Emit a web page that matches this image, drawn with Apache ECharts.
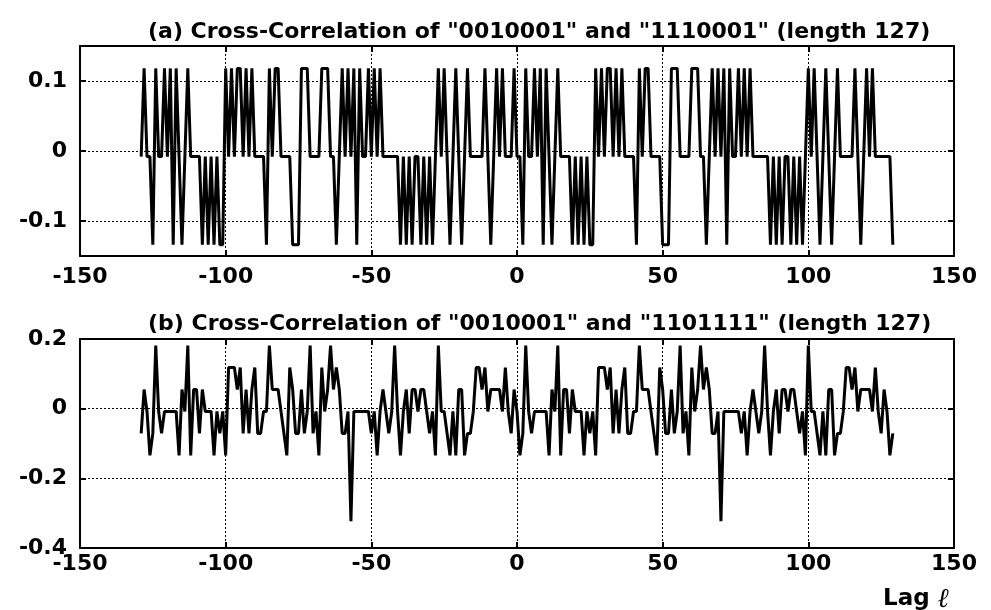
<!DOCTYPE html>
<html><head><meta charset="utf-8">
<script src="https://cdn.jsdelivr.net/npm/echarts@6/dist/echarts.min.js"></script>
<style>html,body{margin:0;padding:0;background:#fff}#c{width:991px;height:610px}</style>
</head><body><div id="c"></div>
<script>
const lagStart = -129, lagEnd = 129;
const titleA = '(a) Cross-Correlation of "0010001" and "1110001" (length 127)';
const titleB = '(b) Cross-Correlation of "0010001" and "1101111" (length 127)';
const xTicks = [-150,-100,-50,0,50,100,150];
const yTicksA = [-0.1,0,0.1];
const yTicksB = [-0.4,-0.2,0,0.2];
const corrA = [-.008,.118,
-.008,-.008,-.134,.118,-.008,-.008,.118,-.008,.118,-.134,
.118,-.008,-.134,-.008,.118,-.008,-.008,-.008,-.008,-.134,
-.008,-.134,-.008,-.134,-.008,-.134,-.134,.118,-.008,.118,
-.008,.118,.118,-.008,.118,-.008,.118,-.008,-.008,-.008,
-.008,-.134,.118,-.008,.118,.118,-.008,-.008,-.008,-.008,
-.134,-.134,-.134,.118,.118,.118,-.008,-.008,-.008,-.008,
.118,.118,.118,-.008,-.008,-.134,-.008,.118,-.008,.118,
-.008,.118,-.134,.118,-.008,-.008,.118,-.008,.118,-.008,
.118,-.008,-.008,-.008,-.008,-.008,-.008,-.134,-.008,-.134,
-.008,-.134,-.008,-.008,-.134,-.008,-.134,-.008,-.134,-.008,
.118,-.008,.118,-.008,-.134,-.008,.118,-.008,-.134,-.008,
.118,-.008,-.008,-.008,-.008,-.008,.118,-.008,-.134,-.008,
.118,-.008,.118,-.008,-.008,-.008,.118,
-.008,-.008,-.134,.118,-.008,-.008,.118,-.008,.118,-.134,
.118,-.008,-.134,-.008,.118,-.008,-.008,-.008,-.008,-.134,
-.008,-.134,-.008,-.134,-.008,-.134,-.134,.118,-.008,.118,
-.008,.118,.118,-.008,.118,-.008,.118,-.008,-.008,-.008,
-.008,-.134,.118,-.008,.118,.118,-.008,-.008,-.008,-.008,
-.134,-.134,-.134,.118,.118,.118,-.008,-.008,-.008,-.008,
.118,.118,.118,-.008,-.008,-.134,-.008,.118,-.008,.118,
-.008,.118,-.134,.118,-.008,-.008,.118,-.008,.118,-.008,
.118,-.008,-.008,-.008,-.008,-.008,-.008,-.134,-.008,-.134,
-.008,-.134,-.008,-.008,-.134,-.008,-.134,-.008,-.134,-.008,
.118,-.008,.118,-.008,-.134,-.008,.118,-.008,-.134,-.008,
.118,-.008,-.008,-.008,-.008,-.008,.118,-.008,-.134,-.008,
.118,-.008,.118,-.008,-.008,-.008,-.008,
-.008,-.008,-.134];
const corrB = [-.071,.055,
-.008,-.134,-.071,.181,-.008,-.071,-.008,-.008,-.008,-.008,
-.008,-.134,.055,-.008,.181,-.134,.055,.055,-.071,.055,
-.008,-.008,-.008,-.134,-.008,-.071,-.008,-.134,.118,.118,
.118,.055,.118,-.071,.055,-.071,.055,.118,-.071,-.071,
-.008,-.008,.181,.055,.055,.055,-.008,-.071,-.134,.118,
.055,-.071,-.071,.055,-.071,-.008,.181,-.071,-.008,-.134,
.118,-.008,.055,.181,.055,.118,.055,-.071,-.071,-.008,
-.323,-.008,-.008,-.008,-.008,-.008,-.008,-.071,-.008,-.134,
-.008,.055,-.008,-.071,-.008,.181,-.008,-.134,-.008,.055,
-.071,.055,.055,-.008,.055,.055,-.008,-.071,-.008,-.134,
.181,-.008,-.008,-.071,-.134,-.008,-.134,.055,.055,-.134,
-.071,-.071,-.008,.118,.118,.055,.118,-.008,.055,.055,
.055,.055,-.008,.118,-.008,-.071,.055,
-.008,-.134,-.071,.181,-.008,-.071,-.008,-.008,-.008,-.008,
-.008,-.134,.055,-.008,.181,-.134,.055,.055,-.071,.055,
-.008,-.008,-.008,-.134,-.008,-.071,-.008,-.134,.118,.118,
.118,.055,.118,-.071,.055,-.071,.055,.118,-.071,-.071,
-.008,-.008,.181,.055,.055,.055,-.008,-.071,-.134,.118,
.055,-.071,-.071,.055,-.071,-.008,.181,-.071,-.008,-.134,
.118,-.008,.055,.181,.055,.118,.055,-.071,-.071,-.008,
-.323,-.008,-.008,-.008,-.008,-.008,-.008,-.071,-.008,-.134,
-.008,.055,-.008,-.071,-.008,.181,-.008,-.134,-.008,.055,
-.071,.055,.055,-.008,.055,.055,-.008,-.071,-.008,-.134,
.181,-.008,-.008,-.071,-.134,-.008,-.134,.055,.055,-.134,
-.071,-.071,-.008,.118,.118,.055,.118,-.008,.055,.055,
.055,.055,-.008,.118,-.008,-.071,.055,
-.008,-.134,-.071];

const lags = [];
for (let l = lagStart; l <= lagEnd; l++) lags.push(l);
const FONT = "'DejaVu Sans', 'Liberation Sans', sans-serif";
const lab = {fontFamily: FONT, fontWeight: 'bold', fontSize: 22, color: '#000'};
const dot = {color: '#000', width: 1, type: [2, 2]};
const grids = [
  {left: 80, top: 46, width: 874, height: 210},
  {left: 80, top: 339, width: 874, height: 209}
];
function xAx(gi, pos, showLabel, margin) {
  return {type: 'value', gridIndex: gi, position: pos, min: -150, max: 150, interval: 50,
    axisLine: {show: true, onZero: false, lineStyle: {color: '#000', width: 2}},
    axisTick: {show: true, inside: true, length: 6, lineStyle: {color: '#000', width: 2}},
    axisLabel: Object.assign({show: showLabel, margin: margin, customValues: xTicks}, lab),
    splitLine: {show: pos === 'bottom', lineStyle: dot}};
}
function yAx(gi, pos, min, max, ticks, showLabel) {
  return {type: 'value', gridIndex: gi, position: pos, min: min, max: max,
    axisLine: {show: true, onZero: false, lineStyle: {color: '#000', width: 2}},
    axisTick: {show: true, inside: true, length: 6, customValues: ticks, lineStyle: {color: '#000', width: 2}},
    axisLabel: Object.assign({show: showLabel, margin: 13, customValues: ticks,
      formatter: v => (Math.abs(v) < 1e-9 ? '0' : String(+v.toFixed(2)))}, lab),
    splitLine: {show: false}};
}
const gridLinesA = yTicksA.map(v => ({yAxis: v}));
const gridLinesB = yTicksB.map(v => ({yAxis: v}));
const chart = echarts.init(document.getElementById('c'), null, {renderer: 'canvas'});
chart.setOption({
  animation: false,
  backgroundColor: '#fff',
  title: [
    {text: titleA, left: 143, top: 16, textStyle: {fontFamily: FONT, fontWeight: 'bold', fontSize: 22, color: '#000'}},
    {text: titleB, left: 143, top: 308, textStyle: {fontFamily: FONT, fontWeight: 'bold', fontSize: 22, color: '#000'}},
    {text: 'Lag {i|ℓ}', left: 878, top: 581, textStyle: {fontFamily: FONT, fontWeight: 'bold', fontSize: 23, color: '#000',
      rich: {i: {fontFamily: "'DejaVu Serif', serif", fontStyle: 'italic', fontSize: 27, color: '#000'}}}}
  ],
  grid: grids,
  xAxis: [xAx(0, 'bottom', true, 10), xAx(0, 'top', false, 8), xAx(1, 'bottom', true, 5), xAx(1, 'top', false, 8)],
  yAxis: [yAx(0, 'left', -0.15, 0.15, yTicksA, true), yAx(0, 'right', -0.15, 0.15, yTicksA, false),
          yAx(1, 'left', -0.4, 0.2, yTicksB, true), yAx(1, 'right', -0.4, 0.2, yTicksB, false)],
  series: [
    {type: 'line', xAxisIndex: 0, yAxisIndex: 0, showSymbol: false, symbol: 'none',
     lineStyle: {color: '#000', width: 3}, data: lags.map((l, i) => [l, corrA[i]]),
     markLine: {silent: true, symbol: 'none', label: {show: false}, lineStyle: dot, data: gridLinesA}},
    {type: 'line', xAxisIndex: 2, yAxisIndex: 2, showSymbol: false, symbol: 'none',
     lineStyle: {color: '#000', width: 3}, data: lags.map((l, i) => [l, corrB[i]]),
     markLine: {silent: true, symbol: 'none', label: {show: false}, lineStyle: dot, data: gridLinesB}}
  ]
});
</script></body></html>
